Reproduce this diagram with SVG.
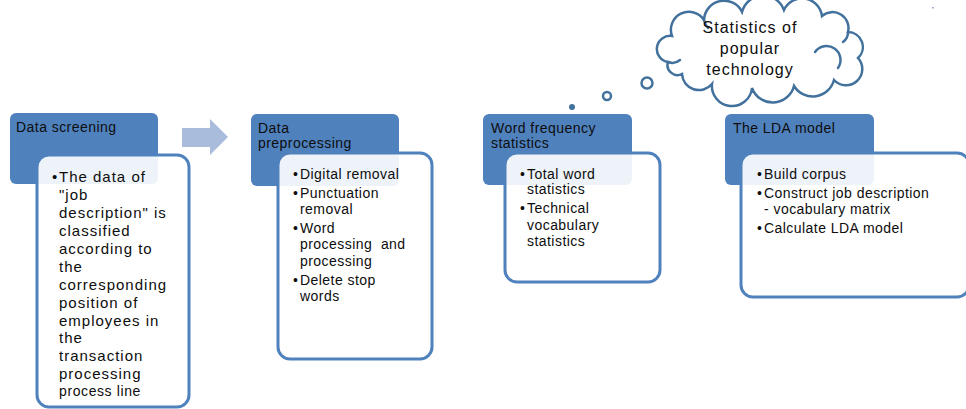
<svg xmlns="http://www.w3.org/2000/svg" width="966" height="409" viewBox="0 0 966 409">
<style>
.hd{fill:#4f81bd;}
.bd{fill:#ffffff;fill-opacity:0.9;stroke:#4f81bd;stroke-width:3;}
.t{font-family:"Liberation Sans",Arial,sans-serif;font-size:14px;letter-spacing:0.45px;fill:#0d0d0d;}
.t1{font-family:"Liberation Sans",Arial,sans-serif;font-size:15px;letter-spacing:1px;fill:#0d0d0d;}
.ct{font-family:"Liberation Sans",Arial,sans-serif;font-size:16px;letter-spacing:1px;fill:#0d0d0d;text-anchor:middle;}
.cl{fill:#ffffff;stroke:#41719c;stroke-width:2.5;}
.curl{fill:none;stroke:#41719c;stroke-width:2.5;stroke-linecap:round;}
</style>
<rect width="966" height="409" fill="#ffffff"/>

<g id="connectors">
  <polygon points="182,128 210,128 210,119 228,137 210,155 210,147 182,147" fill="#a9bcdc"/>
  <circle cx="647" cy="83" r="5.5" class="cl"/>
  <circle cx="607" cy="96" r="4" class="cl"/>
  <circle cx="572" cy="107" r="3" fill="#41719c"/>
</g>

<g id="node-data-screening">
  <rect class="hd" x="10" y="113" width="148" height="71" rx="6"/>
  <rect class="bd" x="37" y="155" width="152" height="252" rx="12"/>
  <text class="t" x="16" y="131.5">Data screening</text>
  <text class="t1" x="52" y="182">•</text>
  <text class="t1" x="59">
    <tspan x="59" y="182">The data of</tspan>
    <tspan x="59" y="200">"job</tspan>
    <tspan x="59" y="218">description" is</tspan>
    <tspan x="59" y="236">classified</tspan>
    <tspan x="59" y="254">according to</tspan>
    <tspan x="59" y="272">the</tspan>
    <tspan x="59" y="290">corresponding</tspan>
    <tspan x="59" y="308">position of</tspan>
    <tspan x="59" y="326">employees in</tspan>
    <tspan x="59" y="343">the</tspan>
    <tspan x="59" y="361">transaction</tspan>
    <tspan x="59" y="379">processing</tspan>
    <tspan x="59" y="396" style="font-size:14px;letter-spacing:0.6px">process line</tspan>
  </text>
</g>

<g id="node-data-preprocessing">
  <rect class="hd" x="251" y="114" width="148" height="72" rx="6"/>
  <rect class="bd" x="278" y="153" width="154" height="206" rx="12"/>
  <text class="t" x="258" y="132.5">Data</text>
  <text class="t" x="258" y="147.5">preprocessing</text>
  <text class="t">
    <tspan x="293" y="178.5">•</tspan><tspan x="300" y="178.5">Digital removal</tspan>
    <tspan x="293" y="197.5">•</tspan><tspan x="300" y="197.5">Punctuation</tspan>
    <tspan x="300" y="213.5">removal</tspan>
    <tspan x="293" y="232.5">•</tspan><tspan x="300" y="232.5">Word</tspan>
    <tspan x="300" y="248.5" xml:space="preserve">processing  and</tspan>
    <tspan x="300" y="265.5">processing</tspan>
    <tspan x="293" y="284.5">•</tspan><tspan x="300" y="284.5">Delete stop</tspan>
    <tspan x="300" y="300.5">words</tspan>
  </text>
</g>

<g id="node-word-frequency">
  <rect class="hd" x="483" y="114" width="149" height="71" rx="6"/>
  <rect class="bd" x="505" y="153" width="155" height="129" rx="12"/>
  <text class="t" x="491" y="132.5">Word frequency</text>
  <text class="t" x="491" y="147.5">statistics</text>
  <text class="t">
    <tspan x="520" y="178.5">•</tspan><tspan x="527" y="178.5">Total word</tspan>
    <tspan x="527" y="193.5">statistics</tspan>
    <tspan x="520" y="212.5">•</tspan><tspan x="527" y="212.5">Technical</tspan>
    <tspan x="527" y="229.5">vocabulary</tspan>
    <tspan x="527" y="246">statistics</tspan>
  </text>
</g>

<g id="node-lda-model">
  <rect class="hd" x="725" y="114" width="149" height="71" rx="6"/>
  <rect class="bd" x="741" y="153" width="228" height="144" rx="12"/>
  <text class="t" x="733" y="132.5">The LDA model</text>
  <text class="t">
    <tspan x="757" y="178.5">•</tspan><tspan x="764" y="178.5">Build corpus</tspan>
    <tspan x="757" y="197.5">•</tspan><tspan x="764" y="197.5">Construct job description</tspan>
    <tspan x="764" y="213.5">- vocabulary matrix</tspan>
    <tspan x="757" y="232.5">•</tspan><tspan x="764" y="232.5">Calculate LDA model</tspan>
  </text>
</g>

<g id="node-popular-technology">
  <path class="cl" d="M668,62 A13,13 0 0 1 672,36 A18,18 0 0 1 704,20 A20,20 0 0 1 742,12 A22,22 0 0 1 784,10 A20,20 0 0 1 822,16 A16,16 0 0 1 848,32 A15,15 0 0 1 858,58 A16,16 0 0 1 834,80 A22,22 0 0 1 794,86 A22,22 0 0 1 752,88 A20,20 0 0 1 712,84 A17,17 0 0 1 682,74 A10,10 0 0 1 668,62 Z"/>
  <path class="curl" d="M815,52 A14,14 0 0 1 838,68"/>
  <path class="curl" d="M848,32 A12,12 0 0 1 843,42"/>
  <path class="curl" d="M668,62 A12,12 0 0 0 680,60"/>
  <path class="curl" d="M704,20 A16,16 0 0 0 708,28"/>
  <text class="ct" x="750" y="32.5">Statistics of</text>
  <text class="ct" x="750" y="53.5">popular</text>
  <text class="ct" x="750" y="74.5">technology</text>
</g>

<rect x="932" y="7" width="2" height="1.5" fill="#9fb2d6"/>
</svg>
